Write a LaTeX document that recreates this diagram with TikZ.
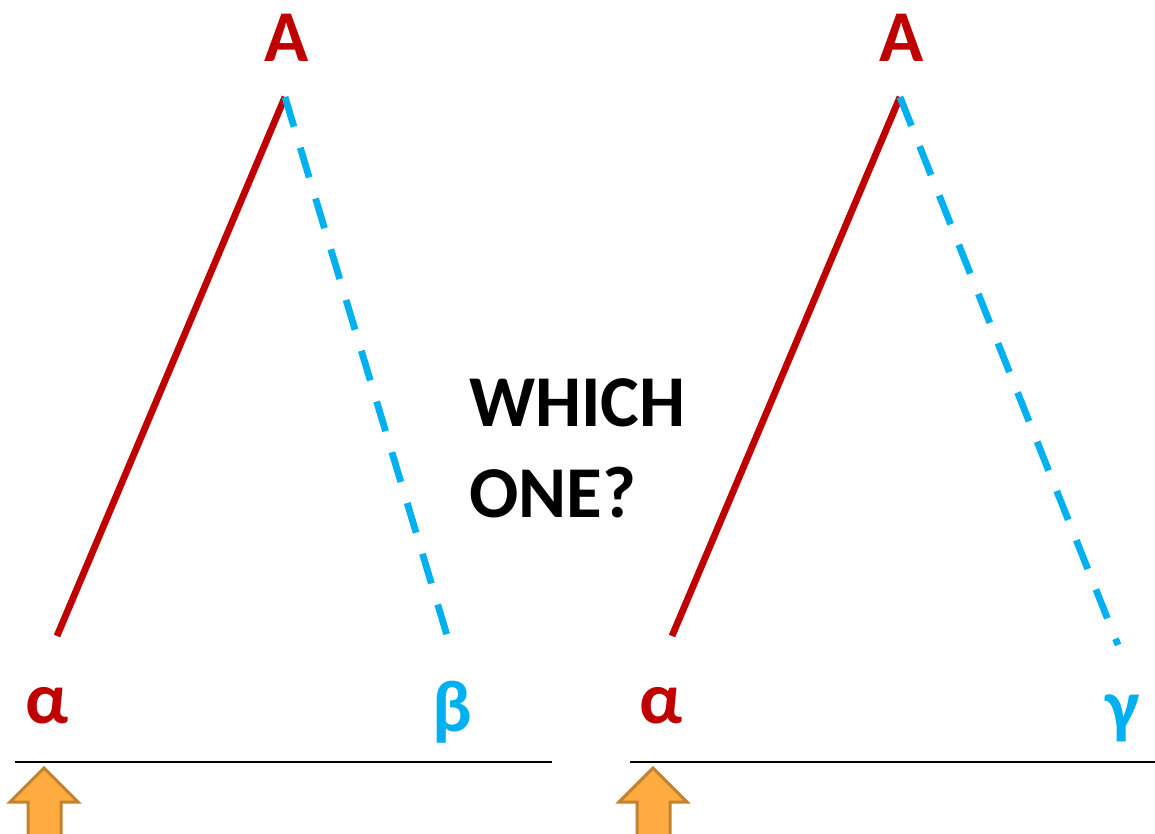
\documentclass[tikz,border=0pt]{standalone}
\usepackage{fontspec}
\setmainfont{Carlito}
\definecolor{darkred}{HTML}{C00000}
\definecolor{skyblue}{HTML}{00B0F0}
\definecolor{arrowfill}{HTML}{FFAB40}
\definecolor{arrowedge}{HTML}{C2822F}
\begin{document}
\begin{tikzpicture}[
  x=1pt,
  y=-1pt,
  every node/.style={font=\fontsize{73}{91}\selectfont\bfseries, inner sep=0pt},
  solidleg/.style={draw=darkred, line width=6.8pt},
  dashleg/.style={draw=skyblue, line width=6.8pt, dash pattern=on 31pt off 22pt},
  redlab/.style={text=darkred},
  bluelab/.style={text=skyblue},
  ground/.style={draw=black, line width=2.8pt},
  pointer/.style={fill=arrowfill, draw=arrowedge, line width=3pt, line join=miter}
]
  \useasboundingbox (0,0) rectangle (1155,834);

  % left tree
  \node[redlab] (topL) at (287,38) {A};
  \coordinate (apexL) at (285,97);
  \coordinate (footaL) at (57,636);
  \coordinate (footbL) at (449,642);
  \draw[solidleg] (apexL) -- (footaL);
  \draw[dashleg] (apexL) -- (footbL);
  \node[redlab] (alphaL) at (47,706) {α};
  \node[bluelab] (betaL) at (452,712) {β};

  % right tree
  \node[redlab] (topR) at (902,38) {A};
  \coordinate (apexR) at (900,97);
  \coordinate (footaR) at (672,636);
  \coordinate (footbR) at (1118,645);
  \draw[solidleg] (apexR) -- (footaR);
  \draw[dashleg] (apexR) -- (footbR);
  \node[redlab] (alphaR) at (661,706) {α};
  \node[bluelab] (gammaR) at (1123,718) {γ};

  % baselines and pointers
  \draw[ground] (15,762) -- (552,762);
  \draw[ground] (630,762) -- (1155,762);
  \foreach \x in {44,653} {
    \draw[pointer] (\x,768) -- (\x+34,802) -- (\x+17,802) -- (\x+17,840)
      -- (\x-16,840) -- (\x-16,802) -- (\x-34,802) -- cycle;
  }

  \node[anchor=west, align=left] (question) at (469,448) {WHICH\\ONE?};
\end{tikzpicture}
\end{document}
